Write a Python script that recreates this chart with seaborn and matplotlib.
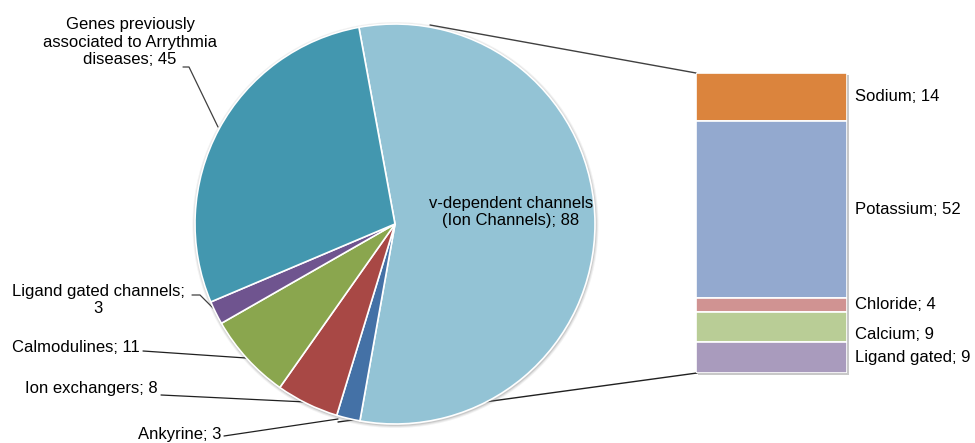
import numpy as np
import matplotlib
matplotlib.use("Agg")
import matplotlib.pyplot as plt
import seaborn as sns
from matplotlib.patches import Circle

# ---- data ----
pie_names = ["v-dependent channels\n(Ion Channels)", "Ankyrine", "Ion exchangers",
             "Calmodulines", "Ligand gated channels", "Genes previously\nassociated to Arrythmia\ndiseases"]
pie_values = [88, 3, 8, 11, 3, 45]
pie_colors = ["#93C3D5", "#4471A6", "#A84845", "#8AA64E", "#6F548F", "#4397AF"]

bar_names = ["Sodium", "Potassium", "Chloride", "Calcium", "Ligand gated"]
bar_values = [14, 52, 4, 9, 9]
bar_colors = ["#DB843D", "#93A9CF", "#D09392", "#B9CD96", "#A99BBD"]

sns.set_theme(style="white")
plt.rcParams["font.family"] = ["Liberation Sans", "DejaVu Sans"]
plt.rcParams["text.color"] = "black"

W, H = 975, 443
fig = plt.figure(figsize=(W / 100, H / 100), dpi=100)
ax = fig.add_axes([0, 0, 1, 1])


def Y(y):
    # canvas rows are counted from the top
    return H - y


cx, cy, r = 395, Y(224), 200
start = 90 + 10.4

# series lines joining the big slice to the breakdown bar (drawn beneath the pie)
ax.plot([430, 696], [Y(25), Y(73)], color="#404040", lw=1.0, zorder=1)
ax.plot([338, 697], [Y(422), Y(373)], color="#202020", lw=1.0, zorder=1)

# soft drop shadow around the pie
for k, a in zip([3.0, 2.0, 1.0], [0.10, 0.15, 0.25]):
    ax.add_patch(Circle((cx + 0.5, cy - 1.0), r + k, color="#808080", alpha=a, lw=0, zorder=2))

wedges, _ = ax.pie(pie_values, colors=pie_colors, startangle=start, counterclock=False,
                   center=(cx, cy), radius=r, frame=True,
                   wedgeprops=dict(edgecolor="white", linewidth=1.2, zorder=3))

fs = 12
# labels for the pie slices
ax.text(511, Y(212), f"{pie_names[0]}; {pie_values[0]}", ha="center", va="center",
        fontsize=fs, linespacing=1.2, zorder=5)
ax.text(130, Y(42), f"{pie_names[5]}; {pie_values[5]}", ha="center", va="center",
        fontsize=fs, linespacing=1.2)
ax.plot([183, 189, 218], [Y(67), Y(67), Y(127)], color="#404040", lw=0.9)

ax.text(98, Y(300), f"{pie_names[4]};\n{pie_values[4]}", ha="center", va="center",
        fontsize=fs, linespacing=1.1)
ax.plot([192, 200, 213], [Y(295), Y(295), Y(308)], color="#404040", lw=0.9)

ax.text(12, Y(347), f"{pie_names[3]}; {pie_values[3]}", ha="left", va="center", fontsize=fs)
ax.plot([143, 246], [Y(351), Y(358)], color="#202020", lw=0.9)

ax.text(25, Y(389), f"{pie_names[2]}; {pie_values[2]}", ha="left", va="center", fontsize=fs)
ax.plot([161, 306], [Y(395), Y(402)], color="#202020", lw=0.9)

ax.text(138, Y(435), f"{pie_names[1]}; {pie_values[1]}", ha="left", va="center", fontsize=fs)
ax.plot([224, 338], [Y(436), Y(419)], color="#202020", lw=0.9)

ax.set_xlim(0, W)
ax.set_ylim(0, H)
ax.set_aspect("auto")
ax.axis("off")

# ---- breakdown bar of the voltage-dependent channels ----
bx0, bx1, by0, by1 = 696, 847, 73, 373
bax = fig.add_axes([bx0 / W, Y(by1) / H, (bx1 - bx0) / W, (by1 - by0) / H])
# faint shadow behind the bar
sh = fig.add_axes([(bx0 + 2) / W, (Y(by1) - 2) / H, (bx1 - bx0) / W, (by1 - by0) / H], zorder=-1)
sh.add_patch(plt.Rectangle((0, 0), 1, 1, color="#C8C8C8", lw=0))
sh.axis("off")

bottoms = np.concatenate([[0], np.cumsum(bar_values)[:-1]])
bax.bar([0] * len(bar_values), bar_values, bottom=bottoms, width=1.0,
        color=bar_colors, edgecolor="white", linewidth=1.2)
bax.set_xlim(-0.5, 0.5)
bax.set_ylim(sum(bar_values), 0)
bax.axis("off")

# the Calcium label is nudged down a little to clear the Chloride one (in bar units)
label_shift = [0, 0, 0, 2.3, 0]
lab_tr = matplotlib.transforms.blended_transform_factory(bax.transAxes, bax.transData)
for name, v, b, s in zip(bar_names, bar_values, bottoms, label_shift):
    bax.text((855 - bx0) / (bx1 - bx0), b + v / 2 + s, f"{name}; {v}",
             transform=lab_tr, ha="left", va="center", fontsize=fs, clip_on=False)

fig.savefig("out.png", dpi=100, facecolor="white")
